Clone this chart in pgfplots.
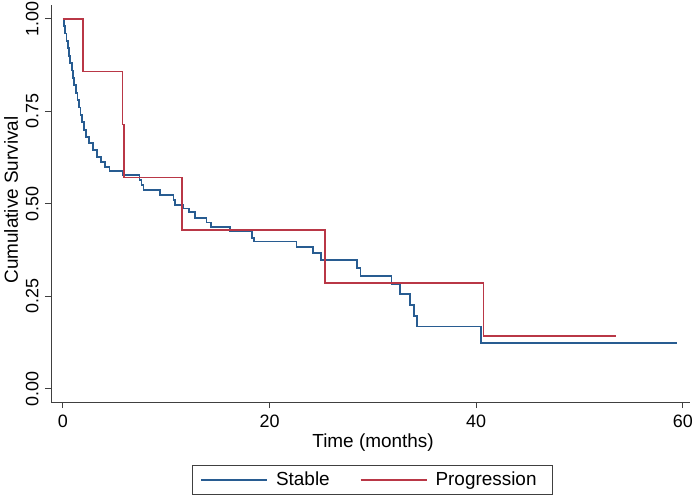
\documentclass[border=0pt]{standalone}
\usepackage{pgfplots}
\pgfplotsset{compat=1.18}
\usepackage{fontspec}
\setmainfont{Liberation Sans}
\definecolor{stblue}{RGB}{40,92,145}
\definecolor{stred}{RGB}{185,55,70}
\begin{document}
\begin{tikzpicture}
\path[use as bounding box] (-51bp,-97bp) rectangle (644bp,402bp);
\begin{axis}[
  scale only axis,
  width=639bp, height=397bp,
  xmin=-1.16, xmax=60.7,
  ymin=-0.036, ymax=1.037,
  axis x line*=bottom, axis y line*=left,
  axis line style={black!75, line width=1pt},
  xtick={0,20,40,60},
  ytick={0,0.25,0.5,0.75,1},
  yticklabels={0.00,0.25,0.50,0.75,1.00},
  tick align=outside,
  major tick length=6bp,
  tick style={black!75, line width=1pt},
  /pgf/number format/assume math mode=true,
  every tick label/.append style={font=\fontsize{18}{20}\selectfont},
  yticklabel style={xshift=-3bp, rotate=90, anchor=south},
  xticklabel style={yshift=-3bp},
  xlabel={Time (months)},
  ylabel={Cumulative Survival},
  label style={font=\fontsize{19}{21}\selectfont},
  xlabel style={at={(axis description cs:0.504,-0.07)}, anchor=north},
  ylabel style={at={(axis description cs:-0.0626,0.509)}, anchor=center},
  legend style={at={(axis description cs:0.503,-0.196)}, anchor=center,
    legend columns=2, draw=black!75, line width=1pt,
    font=\fontsize{19}{21}\selectfont,
    /tikz/column 2/.style={column sep=22bp},
    inner xsep=8bp, inner ysep=5bp,
    nodes={inner xsep=8bp}},
  legend image code/.code={\draw[#1, line width=1.8pt] (0bp,0bp) -- (66bp,0bp);},
  clip=false,
]
\addplot[const plot, color=stblue, line width=1.8pt] coordinates {
(0,1.0) (0.1,0.98) (0.2,0.96) (0.35,0.94) (0.5,0.92) (0.6,0.90) (0.7,0.88)
(0.85,0.86) (0.95,0.84) (1.1,0.82) (1.25,0.80) (1.4,0.78) (1.55,0.76)
(1.7,0.74) (1.85,0.72) (2.0,0.70) (2.25,0.68) (2.5,0.665) (2.9,0.645)
(3.3,0.626) (3.7,0.612) (4.1,0.60) (4.5,0.588) (5.8,0.577) (7.4,0.563)
(7.6,0.55) (7.8,0.537) (9.4,0.523) (10.7,0.51) (10.85,0.497) (11.6,0.487)
(12.2,0.477) (12.8,0.462) (13.9,0.449) (14.3,0.438) (16.2,0.427)
(18.3,0.407) (18.5,0.398) (22.6,0.383) (24.2,0.366) (25.0,0.348)
(28.5,0.326) (28.8,0.304) (31.8,0.283) (32.6,0.255) (33.6,0.227)
(34.0,0.196) (34.3,0.168) (40.5,0.124) (59.4,0.124)
};
\addlegendentry{Stable}
\addplot[const plot, color=stred, line width=1.8pt] coordinates {
(0,1.0) (1.94,0.857) (5.77,0.714) (5.9,0.571) (11.5,0.429) (25.4,0.286)
(40.7,0.143) (53.5,0.143)
};
\addlegendentry{Progression}
\end{axis}
\end{tikzpicture}
\end{document}
